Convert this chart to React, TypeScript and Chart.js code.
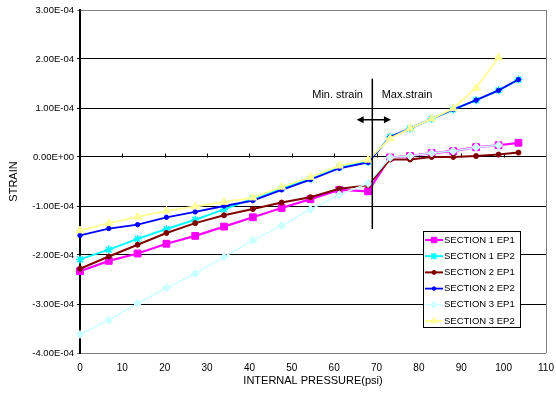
import React, { useEffect, useRef } from 'react';
import { Chart, registerables } from 'chart.js';

Chart.register(...registerables);

// Internal pressure (psi)
const pressure = [0, 6.8, 13.6, 20.4, 27.2, 34, 40.8, 47.6, 54.4, 61.2, 68, 73.2, 77.9, 83, 88.1, 93.5, 98.8, 103.5];

// Strain values in units of 1E-04
const section1Ep1 = [-2.33, -2.12, -1.97, -1.77, -1.61, -1.42, -1.23, -1.04, -0.86, -0.67, -0.7, -0.01, 0.02, 0.08, 0.12, 0.2, 0.24, 0.29];
const section1Ep2 = [-2.09, -1.89, -1.67, -1.47, -1.28, -1.07, -0.85, -0.64, -0.44, -0.21, -0.1, 0.41, 0.58, 0.78, 0.97, 1.16, 1.36, 1.58];
const section2Ep1 = [-2.28, -2.03, -1.79, -1.55, -1.35, -1.19, -1.06, -0.93, -0.82, -0.65, -0.58, -0.05, -0.05, 0.0, 0.0, 0.02, 0.05, 0.09];
const section2Ep2 = [-1.6, -1.46, -1.38, -1.23, -1.12, -1.0, -0.89, -0.67, -0.46, -0.23, -0.11, 0.41, 0.58, 0.78, 0.97, 1.16, 1.36, 1.58];
const section3Ep1 = [-3.62, -3.33, -2.99, -2.67, -2.38, -2.04, -1.7, -1.4, -1.07, -0.77, -0.54, -0.01, 0.02, 0.08, 0.12, 0.2, 0.24, null];
const section3Ep2 = [-1.5, -1.35, -1.22, -1.1, -1.01, -0.92, -0.83, -0.61, -0.41, -0.18, -0.06, 0.38, 0.58, 0.78, 0.99, 1.41, 2.03, null];

const seriesNames = ['SECTION 1 EP1', 'SECTION 1 EP2', 'SECTION 2 EP1', 'SECTION 2 EP2', 'SECTION 3 EP1', 'SECTION 3 EP2'];
const seriesValues = [section1Ep1, section1Ep2, section2Ep1, section2Ep2, section3Ep1, section3Ep2];

const yTickLabels = ['-4.00E-04', '-3.00E-04', '-2.00E-04', '-1.00E-04', '0.00E+00', '1.00E-04', '2.00E-04', '3.00E-04'];
const xTitle = 'INTERNAL PRESSURE(psi)';
const yTitle = 'STRAIN';

// Annotation (boundary between min and max strain)
const boundaryPressure = 69;
const boundaryTop = 1.6e-4;
const boundaryBottom = -1.47e-4;
const arrowStrain = 0.76e-4;
const arrowFrom = 65.3;
const arrowTo = 73.4;
const labelStrain = 1.27e-4;
const minLabel = 'Min. strain';
const maxLabel = 'Max.strain';
const minLabelEnd = 66.8;
const maxLabelStart = 71.2;

const styles = [
  { color: '#FF00FF', point: 'rect', radius: 4.8, lw: 2.2, pbw: 1 },
  { color: '#00FFFF', point: 'star', radius: 4, lw: 2, pbw: 1.5 },
  { color: '#800000', point: 'circle', radius: 2.5, lw: 2, pbw: 1 },
  { color: '#0000FF', point: 'circle', radius: 2.2, lw: 1.8, pbw: 1 },
  { color: '#CCFFFF', point: 'rectRot', radius: 4, lw: 1.5, pbw: 1 },
  { color: '#FFFF99', point: 'triangle', radius: 4.5, lw: 2, pbw: 1 },
];

const FONT = "'Liberation Sans', Arial, sans-serif";

function drawMarker(ctx: CanvasRenderingContext2D, style: string, x: number, y: number, r: number, color: string, bw: number) {
  ctx.save();
  ctx.fillStyle = color;
  ctx.strokeStyle = color;
  ctx.lineWidth = bw;
  ctx.beginPath();
  if (style === 'rect') {
    const s = r * Math.SQRT1_2;
    ctx.rect(x - s, y - s, 2 * s, 2 * s);
    ctx.fill();
    ctx.stroke();
  } else if (style === 'circle') {
    ctx.arc(x, y, r, 0, Math.PI * 2);
    ctx.fill();
    ctx.stroke();
  } else if (style === 'rectRot') {
    ctx.moveTo(x, y - r);
    ctx.lineTo(x + r, y);
    ctx.lineTo(x, y + r);
    ctx.lineTo(x - r, y);
    ctx.closePath();
    ctx.fill();
    ctx.stroke();
  } else if (style === 'triangle') {
    ctx.moveTo(x, y - r);
    ctx.lineTo(x + r * 0.87, y + r * 0.5);
    ctx.lineTo(x - r * 0.87, y + r * 0.5);
    ctx.closePath();
    ctx.fill();
    ctx.stroke();
  } else if (style === 'star') {
    ctx.moveTo(x, y - r);
    ctx.lineTo(x, y + r);
    const d = r * 0.8;
    ctx.moveTo(x - d, y - d);
    ctx.lineTo(x + d, y + d);
    ctx.moveTo(x + d, y - d);
    ctx.lineTo(x - d, y + d);
    ctx.stroke();
  }
  ctx.restore();
}

const framePlugin = {
  id: 'frame',
  beforeDatasetsDraw(chart: any) {
    const { ctx, chartArea, scales } = chart;
    const x = scales.x;
    const y = scales.y;
    ctx.save();
    ctx.strokeStyle = '#808080';
    ctx.lineWidth = 1;
    ctx.beginPath();
    ctx.moveTo(Math.round(chartArea.right) + 0.5, chartArea.top);
    ctx.lineTo(Math.round(chartArea.right) + 0.5, chartArea.bottom);
    ctx.stroke();
    const y0 = Math.round(y.getPixelForValue(0)) + 0.5;
    ctx.strokeStyle = '#000000';
    ctx.lineWidth = 1;
    ctx.beginPath();
    for (let v = 10; v <= 100; v += 10) {
      const px = Math.round(x.getPixelForValue(v)) + 0.5;
      ctx.moveTo(px, y0);
      ctx.lineTo(px, y0 - 4);
    }
    ctx.stroke();
    ctx.restore();
  },
};

const annotationPlugin = {
  id: 'annot',
  afterDatasetsDraw(chart: any) {
    const { ctx, scales } = chart;
    const x = scales.x;
    const y = scales.y;
    ctx.save();
    ctx.strokeStyle = '#000000';
    ctx.fillStyle = '#000000';
    ctx.lineWidth = 1.5;
    const bx = x.getPixelForValue(boundaryPressure);
    ctx.beginPath();
    ctx.moveTo(bx, y.getPixelForValue(boundaryTop));
    ctx.lineTo(bx, y.getPixelForValue(boundaryBottom));
    ctx.stroke();
    const ay = y.getPixelForValue(arrowStrain);
    const ax1 = x.getPixelForValue(arrowFrom);
    const ax2 = x.getPixelForValue(arrowTo);
    ctx.beginPath();
    ctx.moveTo(ax1 + 4, ay);
    ctx.lineTo(ax2 - 4, ay);
    ctx.stroke();
    ctx.beginPath();
    ctx.moveTo(ax1, ay);
    ctx.lineTo(ax1 + 7, ay - 3.5);
    ctx.lineTo(ax1 + 7, ay + 3.5);
    ctx.closePath();
    ctx.fill();
    ctx.beginPath();
    ctx.moveTo(ax2, ay);
    ctx.lineTo(ax2 - 7, ay - 3.5);
    ctx.lineTo(ax2 - 7, ay + 3.5);
    ctx.closePath();
    ctx.fill();
    ctx.font = `11px ${FONT}`;
    ctx.textBaseline = 'middle';
    const ly = y.getPixelForValue(labelStrain);
    ctx.textAlign = 'right';
    ctx.fillText(minLabel, x.getPixelForValue(minLabelEnd), ly);
    ctx.textAlign = 'left';
    ctx.fillText(maxLabel, x.getPixelForValue(maxLabelStart), ly);
    ctx.restore();
  },
};

const legendPlugin = {
  id: 'boxLegend',
  afterDraw(chart: any) {
    const { ctx } = chart;
    const left = 423;
    const top = 231;
    const w = 97;
    const h = 96;
    const row = 16.2;
    ctx.save();
    ctx.fillStyle = '#FFFFFF';
    ctx.fillRect(left, top, w, h);
    ctx.strokeStyle = '#000000';
    ctx.lineWidth = 1;
    ctx.strokeRect(left + 0.5, top + 0.5, w, h);
    ctx.font = `9.5px ${FONT}`;
    ctx.textBaseline = 'middle';
    ctx.textAlign = 'left';
    seriesNames.forEach((name, i) => {
      const st = styles[i];
      const cy = top + 9 + i * row;
      ctx.strokeStyle = st.color;
      ctx.lineWidth = st.lw;
      ctx.beginPath();
      ctx.moveTo(left + 2, cy);
      ctx.lineTo(left + 20, cy);
      ctx.stroke();
      drawMarker(ctx, st.point, left + 11, cy, st.radius * 0.8, st.color, st.pbw);
      ctx.fillStyle = '#000000';
      ctx.fillText(name, left + 21, cy);
    });
    ctx.restore();
  },
};

export default function App() {
  const canvasRef = useRef<HTMLCanvasElement | null>(null);

  useEffect(() => {
    if (!canvasRef.current) return;
    Chart.defaults.font.family = FONT;
    const datasets = seriesValues.map((vals, i) => {
      const st = styles[i];
      const data = pressure
        .map((p, j) => (vals[j] === null || vals[j] === undefined ? null : { x: p, y: (vals[j] as number) * 1e-4 }))
        .filter((d) => d !== null);
      return {
        label: seriesNames[i],
        data,
        borderColor: st.color,
        backgroundColor: st.color,
        borderWidth: st.lw,
        pointStyle: st.point,
        pointRadius: st.radius,
        pointBorderWidth: st.pbw,
        pointBackgroundColor: st.color,
        pointBorderColor: st.color,
        tension: 0,
        fill: false,
        clip: false,
        order: 6 - i,
      };
    });

    const chart = new Chart(canvasRef.current, {
      type: 'line',
      data: { datasets: datasets as any },
      options: {
        animation: false,
        responsive: false,
        devicePixelRatio: 1,
        layout: { padding: { top: 10, right: 10, bottom: 0, left: 0 } },
        plugins: { legend: { display: false }, tooltip: { enabled: false } },
        scales: {
          x: {
            type: 'linear',
            min: 0,
            max: 110,
            grid: { display: false, drawTicks: false },
            border: { display: false },
            ticks: {
              stepSize: 10,
              autoSkip: false,
              maxRotation: 0,
              padding: 9,
              color: '#000000',
              font: { size: 10, family: FONT },
            },
            title: {
              display: true,
              text: xTitle,
              color: '#000000',
              font: { size: 11, family: FONT },
              padding: { top: 0, bottom: 10 },
            },
            afterFit: (s: any) => {
              s.height = 45;
              s.paddingLeft = 0;
              s.paddingRight = 0;
            },
          },
          y: {
            type: 'linear',
            min: -4e-4,
            max: 3e-4,
            grid: {
              color: (c: any) => {
                const r = Math.round((c.tick ? c.tick.value : 0) * 1e4);
                return r === 3 || r === -4 ? '#808080' : '#000000';
              },
              lineWidth: 1,
              tickLength: 3,
              drawTicks: true,
            },
            border: { display: true, color: '#000000', width: 2 },
            ticks: {
              stepSize: 1e-4,
              padding: 3,
              color: '#000000',
              font: { size: 9.5, family: FONT },
              callback: (v: any) => yTickLabels[Math.round(Number(v) * 1e4) + 4],
            },
            title: {
              display: true,
              text: yTitle,
              color: '#000000',
              font: { size: 11, family: FONT },
              padding: { top: 7, bottom: 0 },
            },
            afterFit: (s: any) => {
              s.width = 80;
              s.paddingTop = 0;
              s.paddingBottom = 0;
            },
          },
        },
      } as any,
      plugins: [framePlugin, annotationPlugin, legendPlugin],
    });
    return () => chart.destroy();
  }, []);

  return (
    <div style={{ position: 'absolute', left: 0, top: 0, width: 556, height: 398, background: '#FFFFFF' }}>
      <canvas ref={canvasRef} width={556} height={398} style={{ display: 'block' }} />
    </div>
  );
}
